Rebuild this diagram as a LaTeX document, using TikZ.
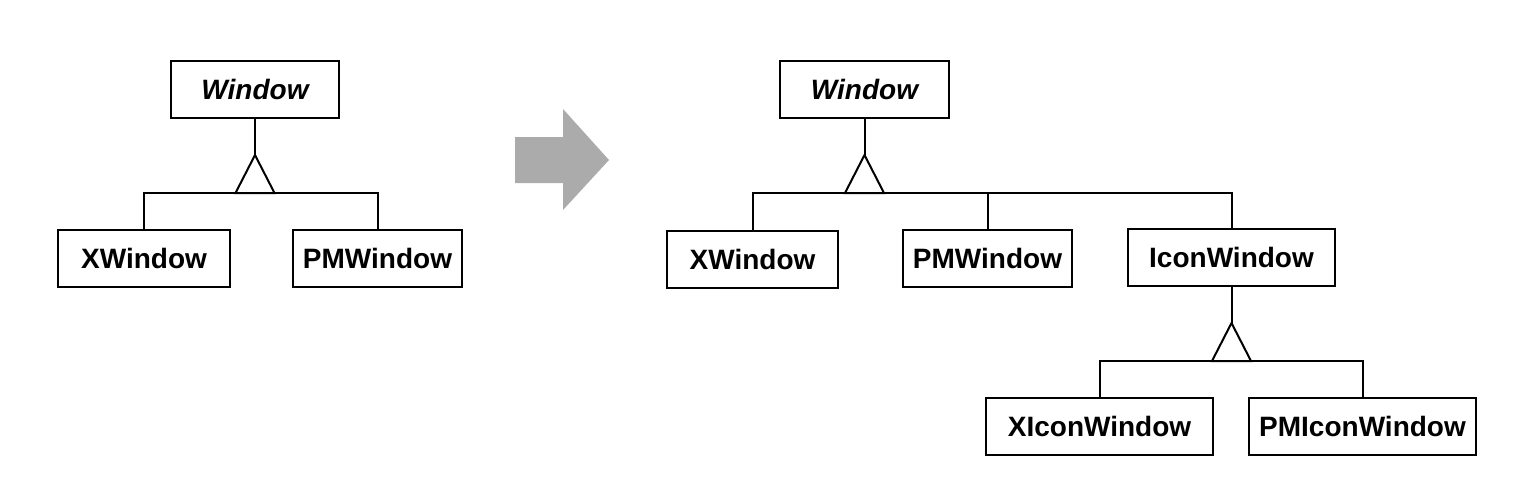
\documentclass[tikz,border=0pt]{standalone}
\usepackage{fontspec}
\setsansfont{Liberation Sans}
\begin{document}
\begin{tikzpicture}[
            x=0.5pt, y=-0.5pt,
            classbox/.style={draw, line width=1pt, inner sep=0pt, minimum height=28.5pt,
                font=\sffamily\bfseries\fontsize{14}{16}\selectfont},
            link/.style={line width=1pt}
            ]
            \useasboundingbox (0,0) rectangle (1516,494);
            % before
            \node[classbox, minimum width=84pt] (win) at (255,89) {\itshape Window};
            \node[classbox, minimum width=86pt] (xw) at (144,258.5) {XWindow};
            \node[classbox, minimum width=84.5pt] (pmw) at (377.5,258.5) {PMWindow};
            \coordinate (apex) at (255,155);
            \coordinate (bar) at (255,193);

            \draw[link] (win.south)--(apex);
            \draw[link] (apex)--++(-19.5,38)--++(39,0)--cycle;
            \draw[link] (xw.north) |- (bar) -| (pmw.north);

            % arrow
            \fill[black!33] (515,137)--(563,137)--(563,109)--(609,160)--(563,210)--(563,183)--(515,183)--cycle;

            % after
            \node[classbox, minimum width=84.5pt] (win2) at (864.5,89) {\itshape Window};
            \node[classbox, minimum width=85.5pt] (xw2) at (752.5,259) {XWindow};
            \node[classbox, minimum width=84.5pt] (pmw2) at (987.5,258) {PMWindow};
            \node[classbox, minimum width=103.5pt] (icw) at (1231.5,257) {IconWindow};
            \node[classbox, minimum width=113.5pt] (xicw) at (1099.5,426) {XIconWindow};
            \node[classbox, minimum width=113.5pt] (pmicw) at (1362.5,426) {PMIconWindow};
            \coordinate (apex2) at (864.5,155);
            \coordinate (bar2) at (864.5,193);
            \coordinate (apex3) at (1231.5,323);
            \coordinate (bar3) at (1231.5,361);

            \draw[link] (win2.south)--(apex2);
            \draw[link] (apex2)--++(-19.5,38)--++(39,0)--cycle;
            \draw[link] (xw2.north) |- (bar2) -| (icw.north);
            \draw[link] (pmw2.north)--(pmw2.north |- bar2);

            \draw[link] (icw.south)--(apex3);
            \draw[link] (apex3)--++(-19.5,38)--++(39,0)--cycle;
            \draw[link] (xicw.north) |- (bar3) -| (pmicw.north);
            \end{tikzpicture}
\end{document}
